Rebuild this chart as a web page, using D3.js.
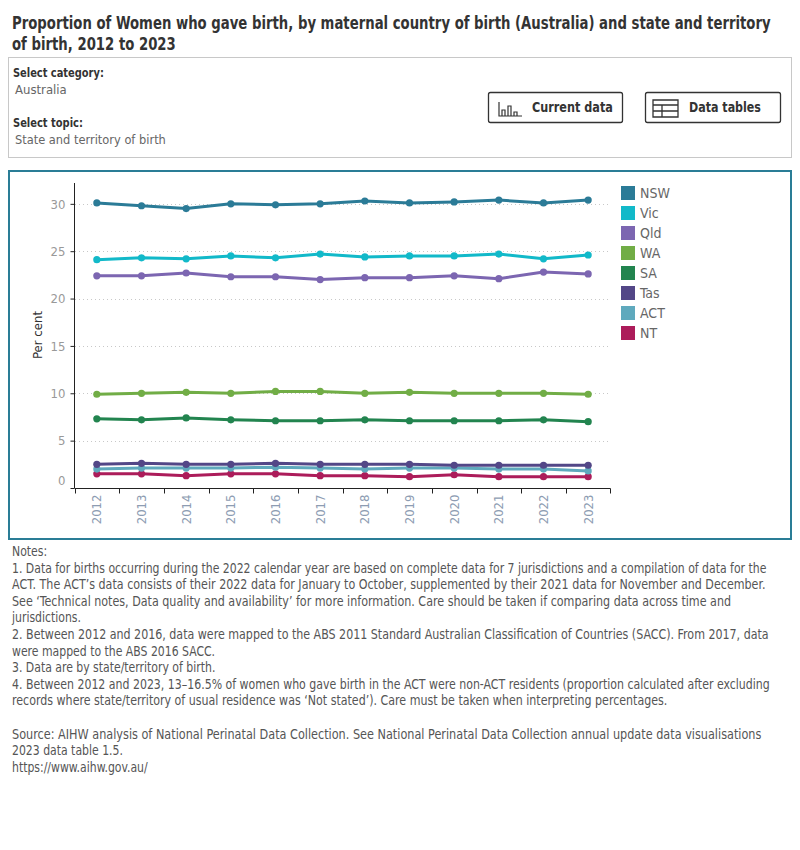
<!DOCTYPE html>
<html>
<head>
<meta charset="utf-8">
<script src="https://cdn.jsdelivr.net/npm/d3@7"></script>
<style>
  body { margin: 0; background: #fff; }
  svg text { font-family: 'Liberation Sans Narrow', 'DejaVu Sans Condensed', 'Open Sans', sans-serif; }
</style>
</head>
<body>
<div id="chart"></div>
<script>
// Data
var years = ['2012', '2013', '2014', '2015', '2016', '2017', '2018', '2019', '2020', '2021', '2022', '2023'];
var states = ['NSW', 'Vic', 'Qld', 'WA', 'SA', 'Tas', 'ACT', 'NT'];
var nsw = [30.1, 29.8, 29.5, 30.0, 29.9, 30.0, 30.3, 30.1, 30.2, 30.4, 30.1, 30.4];
var vic = [24.1, 24.3, 24.2, 24.5, 24.3, 24.7, 24.4, 24.5, 24.5, 24.7, 24.2, 24.6];
var qld = [22.4, 22.4, 22.7, 22.3, 22.3, 22.0, 22.2, 22.2, 22.4, 22.1, 22.8, 22.6];
var wa = [9.9, 10.0, 10.1, 10.0, 10.2, 10.2, 10.0, 10.1, 10.0, 10.0, 10.0, 9.9];
var sa = [7.3, 7.2, 7.4, 7.2, 7.1, 7.1, 7.2, 7.1, 7.1, 7.1, 7.2, 7.0];
var tas = [2.5, 2.6, 2.5, 2.5, 2.6, 2.5, 2.5, 2.5, 2.4, 2.4, 2.4, 2.4];
var act = [2.0, 2.1, 2.1, 2.1, 2.2, 2.1, 2.0, 2.1, 2.1, 2.0, 2.0, 1.8];
var nt = [1.5, 1.5, 1.3, 1.5, 1.5, 1.3, 1.3, 1.2, 1.4, 1.2, 1.2, 1.2];
var yTicks = [0, 5, 10, 15, 20, 25, 30];
var colors = ['#2b7b97', '#12b9c9', '#7c66b1', '#71ad46', '#22844f', '#534787', '#5fa9bd', '#ac1c5a'];

var titleLines = ['Proportion of Women who gave birth, by maternal country of birth (Australia) and state and territory',
                  'of birth, 2012 to 2023'];

var notes = [
  'Notes:',
  '1. Data for births occurring during the 2022 calendar year are based on complete data for 7 jurisdictions and a compilation of data for the',
  'ACT. The ACT\u2019s data consists of their 2022 data for January to October, supplemented by their 2021 data for November and December.',
  'See \u2018Technical notes, Data quality and availability\u2019 for more information. Care should be taken if comparing data across time and',
  'jurisdictions.',
  '2. Between 2012 and 2016, data were mapped to the ABS 2011 Standard Australian Classification of Countries (SACC). From 2017, data',
  'were mapped to the ABS 2016 SACC.',
  '3. Data are by state/territory of birth.',
  '4. Between 2012 and 2023, 13\u201316.5% of women who gave birth in the ACT were non-ACT residents (proportion calculated after excluding',
  'records where state/territory of usual residence was \u2018Not stated\u2019). Care must be taken when interpreting percentages.',
  '',
  'Source: AIHW analysis of National Perinatal Data Collection. See National Perinatal Data Collection annual update data visualisations',
  '2023 data table 1.5.',
  'https://www.aihw.gov.au/'
];
// width of each full note line in the reference (null = use common factor)
var noteWidths = [null, 755, 754, 720, null, 758, null, null, 758, 656, null, 750, null, null];

var series = [nsw, vic, qld, wa, sa, tas, act, nt].map(function(vals, i) {
  return { name: states[i], color: colors[i], values: vals };
});

// squeeze text horizontally by factor k
function squeezeBy(t, k) {
  var x0 = +t.attr('x'), y0 = +t.attr('y');
  t.attr('x', 0)
   .attr('y', 0)
   .attr('transform', 'translate(' + x0 + ',' + y0 + ') scale(' + k + ',1)');
}

// squeeze so that the first node fits the target width
function squeeze(sel, target) {
  var k = Math.min(1, target / sel.node().getComputedTextLength());
  sel.each(function() { squeezeBy(d3.select(this), k); });
  return k;
}

var svg = d3.select('#chart')
            .append('svg')
            .attr('width', 800)
            .attr('height', 850);

// Title
var title = svg.selectAll('.title')
               .data(titleLines)
               .enter()
               .append('text')
               .attr('class', 'title')
               .attr('x', 12)
               .attr('y', function(d, i) { return 29 + i * 21; })
               .attr('font-size', 18)
               .attr('font-weight', 'bold')
               .attr('fill', '#333')
               .text(function(d) { return d; });
squeeze(title, 759);

// Filter panel
svg.append('rect')
   .attr('x', 8.5).attr('y', 57.5)
   .attr('width', 783).attr('height', 100)
   .attr('fill', 'none')
   .attr('stroke', '#c8c8c8');

var filters = [
  { text: 'Select category:', y: 77, bold: true, w: 91 },
  { text: 'Australia', y: 94, bold: false, w: 53 },
  { text: 'Select topic:', y: 127, bold: true, w: 70 },
  { text: 'State and territory of birth', y: 144, bold: false, w: 151 }
];
svg.selectAll('.filter')
   .data(filters)
   .enter()
   .append('text')
   .attr('class', 'filter')
   .attr('x', function(d) { return d.bold ? 13 : 15; })
   .attr('y', function(d) { return d.y; })
   .attr('font-size', 13)
   .attr('font-weight', function(d) { return d.bold ? 'bold' : 'normal'; })
   .attr('fill', function(d) { return d.bold ? '#333' : '#666'; })
   .text(function(d) { return d.text; })
   .each(function(d) { squeeze(d3.select(this), d.w); });

// Buttons
var buttons = [
  { label: 'Current data', x: 488.5, w: 134, tx: 532, tw: 81 },
  { label: 'Data tables', x: 645.5, w: 135, tx: 689, tw: 72 }
];
var btn = svg.selectAll('.btn')
             .data(buttons)
             .enter()
             .append('g')
             .attr('class', 'btn');
btn.append('rect')
   .attr('x', function(d) { return d.x; })
   .attr('y', 92.5)
   .attr('width', function(d) { return d.w; })
   .attr('height', 30)
   .attr('rx', 2)
   .attr('fill', '#fff')
   .attr('stroke', '#333')
   .attr('stroke-width', 1.3);
btn.append('text')
   .attr('x', function(d) { return d.tx; })
   .attr('y', 112)
   .attr('font-size', 14)
   .attr('font-weight', 'bold')
   .attr('fill', '#333')
   .text(function(d) { return d.label; })
   .each(function(d) { squeeze(d3.select(this), d.tw); });

// bar icon
svg.append('path')
   .attr('d', 'M499,102V116H522 M502,116V110H505V116 M508,116V106H511V116 M514,116V112H517V116')
   .attr('fill', 'none')
   .attr('stroke', '#333')
   .attr('stroke-width', 1.2);
// table icon
svg.append('path')
   .attr('d', 'M653,100H678V117H653Z M653,105H678 M653,111H678 M662,105V117')
   .attr('fill', 'none')
   .attr('stroke', '#333')
   .attr('stroke-width', 1.3);

// Chart frame
svg.append('rect')
   .attr('x', 9).attr('y', 171)
   .attr('width', 782).attr('height', 368)
   .attr('fill', 'none')
   .attr('stroke', '#2a7d96')
   .attr('stroke-width', 2);

// Scales
var x = d3.scaleBand()
          .domain(years)
          .range([74.5, 610.5]);

var y = d3.scaleLinear()
          .domain([0, 32.2])
          .range([488, 183]);

var plot = svg.append('g');

// Gridlines
plot.selectAll('.grid')
    .data(yTicks.filter(function(d) { return d > 0; }))
    .enter()
    .append('line')
    .attr('class', 'grid')
    .attr('x1', 75).attr('x2', 609)
    .attr('y1', function(d) { return Math.round(y(d)) + 0.5; })
    .attr('y2', function(d) { return Math.round(y(d)) + 0.5; })
    .attr('stroke', '#c8c8c8')
    .attr('stroke-dasharray', '1,3');

// Y axis
var yAxis = d3.axisLeft(y)
              .tickValues(yTicks)
              .tickSize(4)
              .tickPadding(5)
              .tickFormat(d3.format('d'));
var yg = plot.append('g')
             .attr('transform', 'translate(74.5,0)')
             .call(yAxis);
yg.select('.domain').attr('d', 'M0,183V488').attr('stroke', '#222');
yg.selectAll('.tick line').attr('stroke', '#222');
yg.selectAll('.tick text')
  .attr('font-size', 13)
  .attr('fill', '#999')
  .attr('dy', function(d) { return d === 0 ? '-0.25em' : '0.32em'; });

// X axis
var xAxis = d3.axisBottom(x).tickSize(0).tickPadding(0);
var xg = plot.append('g')
             .attr('transform', 'translate(0,488.5)')
             .call(xAxis);
xg.select('.domain').attr('d', 'M74.5,0H610.5').attr('stroke', '#222');
xg.selectAll('.band-tick')
  .data(years.concat(['end']))
  .enter()
  .append('line')
  .attr('class', 'band-tick')
  .attr('x1', function(d) { return d === 'end' ? 610.5 : Math.round(x(d)) + 0.5; })
  .attr('x2', function(d) { return d === 'end' ? 610.5 : Math.round(x(d)) + 0.5; })
  .attr('y1', 0).attr('y2', 5)
  .attr('stroke', '#222');
xg.selectAll('.tick text')
  .attr('font-size', 13)
  .attr('fill', '#8d9cb2')
  .attr('text-anchor', 'end')
  .attr('transform', 'translate(0,6) rotate(-90)')
  .attr('dx', 0)
  .attr('dy', '0.35em')
  .attr('y', 0);

// Y label
svg.append('text')
   .attr('transform', 'translate(42,335) rotate(-90)')
   .attr('text-anchor', 'middle')
   .attr('font-size', 13)
   .attr('fill', '#333')
   .text('Per cent');

// Lines
var line = d3.line()
             .x(function(d, i) { return x(years[i]) + x.bandwidth() / 2; })
             .y(function(d) { return y(d); });

var groups = plot.selectAll('.series')
                 .data(series.slice().reverse())
                 .enter()
                 .append('g')
                 .attr('class', 'series');

groups.append('path')
      .attr('d', function(d) { return line(d.values); })
      .attr('fill', 'none')
      .attr('stroke', function(d) { return d.color; })
      .attr('stroke-width', 3)
      .attr('stroke-linejoin', 'round');

groups.selectAll('circle')
      .data(function(d) { return d.values.map(function(v, i) { return { v: v, i: i, color: d.color }; }); })
      .enter()
      .append('circle')
      .attr('cx', function(d) { return x(years[d.i]) + x.bandwidth() / 2; })
      .attr('cy', function(d) { return y(d.v); })
      .attr('r', 3.6)
      .attr('fill', function(d) { return d.color; });

// Legend
var legend = svg.selectAll('.legend')
                .data(series)
                .enter()
                .append('g')
                .attr('class', 'legend')
                .attr('transform', function(d, i) { return 'translate(621,' + (186 + i * 20) + ')'; });
legend.append('rect')
      .attr('width', 14).attr('height', 14)
      .attr('fill', function(d) { return d.color; });
legend.append('text')
      .attr('x', 19).attr('y', 12)
      .attr('font-size', 14)
      .attr('fill', '#666')
      .text(function(d) { return d.name; });

// Notes
var noteText = svg.selectAll('.note')
                  .data(notes)
                  .enter()
                  .append('text')
                  .attr('class', 'note')
                  .attr('x', 12)
                  .attr('y', function(d, i) { return 556 + i * 16.6; })
                  .attr('font-size', 13.5)
                  .attr('fill', '#555')
                  .text(function(d) { return d; });

var baseK = Math.min(1, noteWidths[1] / noteText.nodes()[1].getComputedTextLength());
noteText.each(function(d, i) {
  var t = d3.select(this);
  var k = noteWidths[i] ? Math.min(1, noteWidths[i] / this.getComputedTextLength()) : baseK;
  squeezeBy(t, k);
});
</script>
</body>
</html>
